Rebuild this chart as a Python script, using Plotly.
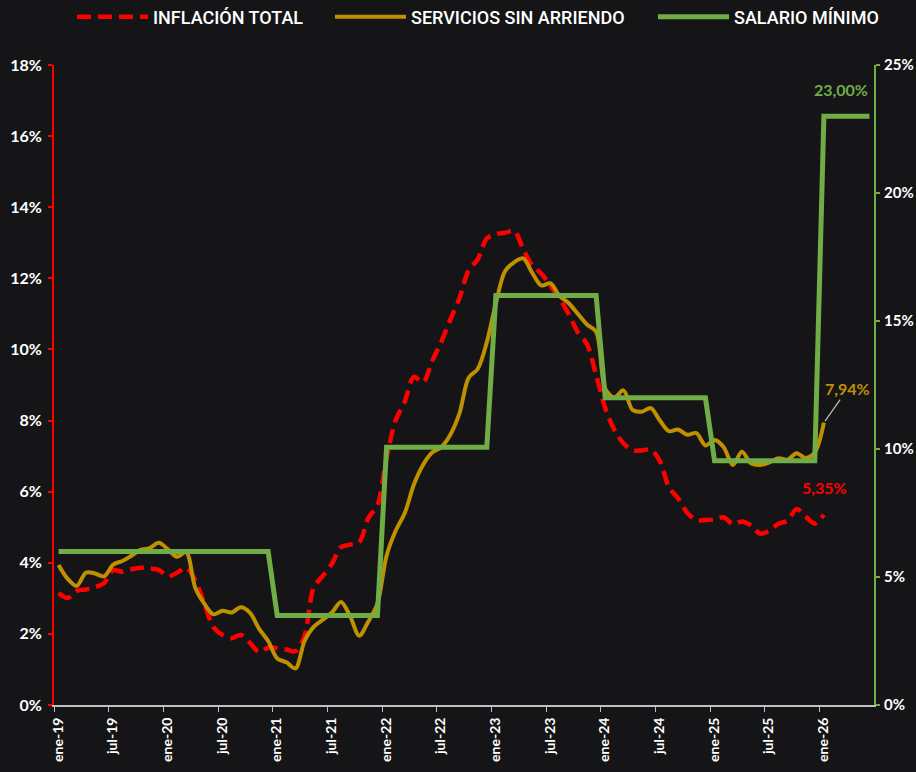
import plotly.graph_objects as go

# Meses de ene-19 a jun-26
abrev = ["ene", "feb", "mar", "abr", "may", "jun", "jul", "ago", "sep", "oct", "nov", "dic"]
meses = [f"{abrev[i % 12]}-{19 + i // 12}" for i in range(90)]

# Inflación total anual (%), ene-19 a ene-26
inflacion_total = [
    3.15, 3.01, 3.21, 3.25, 3.31, 3.43, 3.79, 3.75, 3.82, 3.86, 3.84, 3.80,
    3.62, 3.72, 3.86, 3.51, 2.85, 2.19, 1.97, 1.88, 1.97, 1.75, 1.49, 1.61,
    1.60, 1.56, 1.51, 1.95, 3.30, 3.63, 3.97, 4.44, 4.51, 4.58, 5.26, 5.62,
    6.94, 8.01, 8.53, 9.23, 9.07, 9.67, 10.21, 10.84, 11.44, 12.22, 12.53, 13.12,
    13.25, 13.28, 13.34, 12.82, 12.36, 12.13, 11.78, 11.43, 10.99, 10.48, 10.15, 9.28,
    8.35, 7.74, 7.36, 7.16, 7.16, 7.18, 6.86, 6.12, 5.81, 5.41, 5.20, 5.20,
    5.22, 5.28, 5.09, 5.16, 5.05, 4.82, 4.90, 5.10, 5.18, 5.51, 5.30, 5.10,
    5.35,
]

# Servicios sin arriendo, variación anual (%), ene-19 a ene-26
servicios_sin_arriendo = [
    3.94, 3.55, 3.35, 3.72, 3.70, 3.62, 3.95, 4.05, 4.20, 4.36, 4.41, 4.56,
    4.38, 4.17, 4.30, 3.30, 2.85, 2.55, 2.65, 2.60, 2.75, 2.60, 2.15, 1.80,
    1.31, 1.20, 1.03, 1.80, 2.20, 2.40, 2.60, 2.90, 2.50, 1.95, 2.35, 2.85,
    4.20, 4.90, 5.40, 6.20, 6.75, 7.10, 7.25, 7.60, 8.20, 9.20, 9.45, 10.20,
    11.30, 12.20, 12.45, 12.56, 12.15, 11.80, 11.86, 11.50, 11.30, 11.00, 10.70, 10.50,
    8.90, 8.65, 8.85, 8.30, 8.25, 8.35, 8.00, 7.70, 7.75, 7.60, 7.65, 7.30,
    7.45, 7.25, 6.75, 7.12, 6.80, 6.75, 6.82, 6.94, 6.90, 7.08, 6.95, 7.10,
    7.94,
]

# Incremento del salario mínimo por año (%), aplicado a cada mes
salario_anual = {2019: 6.00, 2020: 6.00, 2021: 3.50, 2022: 10.07, 2023: 16.00,
                 2024: 12.00, 2025: 9.54, 2026: 23.00}
salario_minimo = [salario_anual[2019 + i // 12] for i in range(len(meses))]

ROJO = "#FF0000"
DORADO = "#BF9000"
VERDE = "#70AD47"
FONDO = "#151517"
BLANCO = "#FFFFFF"

def pct(v):
    return f"{v:.2f}".replace(".", ",") + "%"

x_inf = list(range(len(inflacion_total)))
x_ser = list(range(len(servicios_sin_arriendo)))
x_sal = list(range(len(salario_minimo)))

fig = go.Figure()
fig.add_trace(go.Scatter(
    x=x_inf, y=inflacion_total, name="INFLACIÓN TOTAL", mode="lines", legend="legend",
    line=dict(color=ROJO, width=4.5, dash="14px,7px", shape="spline", smoothing=0.9),
))
fig.add_trace(go.Scatter(
    x=x_ser, y=servicios_sin_arriendo, name="SERVICIOS SIN ARRIENDO", mode="lines",
    legend="legend2",
    line=dict(color=DORADO, width=4, shape="spline", smoothing=0.9),
))
fig.add_trace(go.Scatter(
    x=x_sal, y=salario_minimo, name="SALARIO MÍNIMO", mode="lines", legend="legend3",
    line=dict(color=VERDE, width=5), yaxis="y2",
))

# Una leyenda por serie, alineadas en la franja superior
PLOT_L, PLOT_W = 54, 820
def leyenda(px_left):
    return dict(
        orientation="h", x=(px_left - PLOT_L) / PLOT_W, xanchor="left",
        y=1.075, yanchor="middle",
        font=dict(family="Roboto", size=18, color=BLANCO, weight=500),
        itemwidth=71, bgcolor="rgba(0,0,0,0)",
    )

tick_idx = list(range(0, 85, 6))
fig.update_layout(
    width=916, height=772,
    paper_bgcolor=FONDO, plot_bgcolor=FONDO,
    margin=dict(l=54, r=42, t=65, b=67, autoexpand=False),
    font=dict(family="Lato", color=BLANCO),
    showlegend=True,
    legend=leyenda(72),
    legend2=leyenda(330),
    legend3=leyenda(653),
    xaxis=dict(
        range=[-0.5, 89.5], showgrid=False, zeroline=False,
        showline=True, linecolor="#BFBFBF", linewidth=2,
        tickmode="array", tickvals=[i - 0.5 for i in tick_idx],
        ticktext=[meses[i] for i in tick_idx],
        ticks="outside", ticklen=5, tickcolor="#BFBFBF", tickwidth=1,
        tickangle=-90, ticklabelshift=4,
        tickfont=dict(family="Lato", size=14, color=BLANCO, weight=700),
    ),
    yaxis=dict(
        range=[0, 18], dtick=2, ticksuffix="%", showgrid=False, zeroline=False,
        showline=True, linecolor=ROJO, linewidth=2,
        ticks="outside", ticklen=4, tickcolor=ROJO, tickwidth=2,
        ticklabelstandoff=3,
        tickfont=dict(family="Lato", size=16, color=BLANCO, weight=700),
    ),
    yaxis2=dict(
        range=[0, 25], dtick=5, ticksuffix="%", overlaying="y", side="right",
        showgrid=False, zeroline=False,
        showline=True, linecolor=VERDE, linewidth=2,
        ticks="outside", ticklen=4, tickcolor=VERDE, tickwidth=2,
        ticklabelstandoff=1,
        tickfont=dict(family="Lato", size=15, color=BLANCO, weight=700),
    ),
)

# Etiquetas de los últimos valores
fig.add_annotation(
    x=x_sal[-1], y=salario_minimo[-1], xref="x", yref="y2",
    text=pct(salario_minimo[-1]), showarrow=False,
    xshift=-28, yshift=27,
    font=dict(family="Lato", size=16, color=VERDE, weight=700),
)
fig.add_annotation(
    x=x_ser[-1], y=servicios_sin_arriendo[-1], xref="x", yref="y",
    text=pct(servicios_sin_arriendo[-1]), showarrow=True,
    arrowhead=0, arrowwidth=1.2, arrowcolor="#BFBFBF",
    ax=24, ay=-34, standoff=2,
    font=dict(family="Lato", size=16, color=DORADO, weight=700),
)
fig.add_annotation(
    x=x_inf[-1], y=inflacion_total[-1], xref="x", yref="y",
    text=pct(inflacion_total[-1]), showarrow=False,
    xshift=1, yshift=27,
    font=dict(family="Lato", size=16, color=ROJO, weight=700),
)

fig.write_html("out.html")
